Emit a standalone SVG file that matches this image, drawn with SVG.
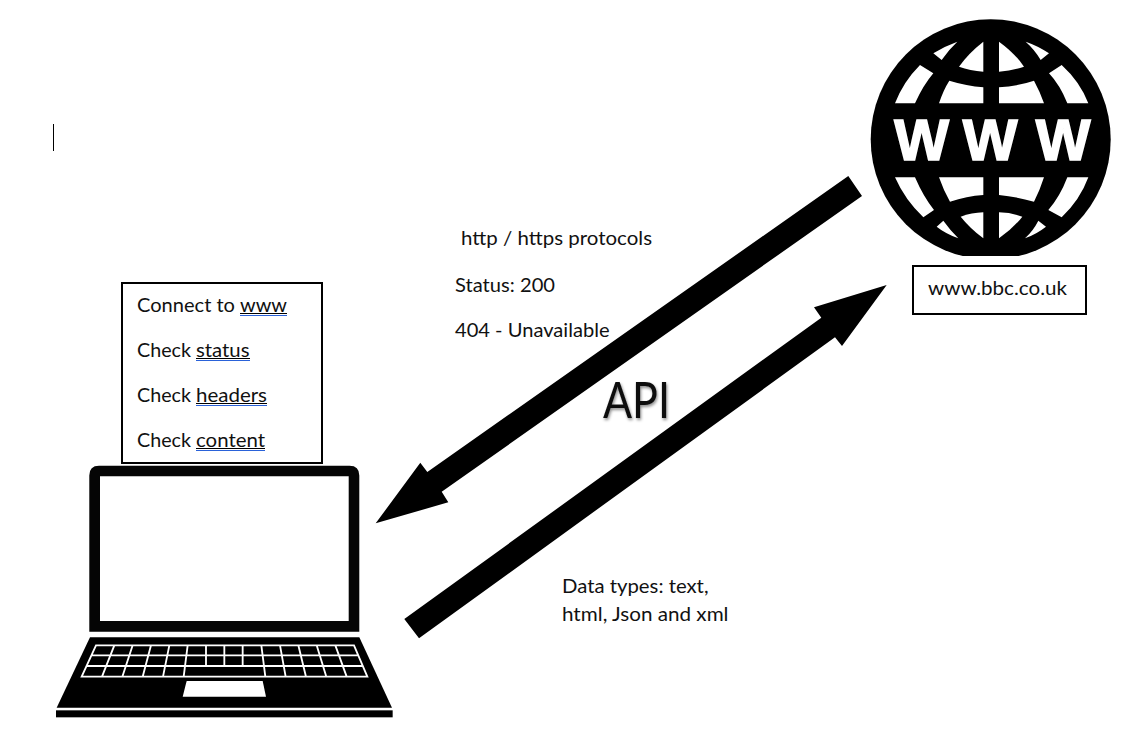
<svg xmlns="http://www.w3.org/2000/svg" width="1137" height="753" viewBox="0 0 1137 753">
<style>
.t{font-family:Lato,"Liberation Sans",sans-serif;font-size:20px;fill:#111}
.box{fill:#fff;stroke:#000;stroke-width:2}
.ub{stroke:#000;stroke-width:1}
.ul{stroke:#2a62d9;stroke-width:1}
.cell{fill:#fff}
.ww{font-family:"Liberation Sans",Arial,sans-serif;font-weight:700;font-size:58px;fill:#fff;stroke:#fff;stroke-width:1.6;text-anchor:middle}
.key{fill:none;stroke:#fff;stroke-width:5.5}
</style>
<defs>
<clipPath id="globeClip"><rect x="860" y="10" width="251" height="246"/></clipPath>
<filter id="soft" x="-20%" y="-20%" width="140%" height="140%"><feDropShadow dx="1" dy="2" stdDeviation="1.5" flood-color="#000" flood-opacity="0.45"/></filter>
</defs>
<rect width="1137" height="753" fill="#fff"/>
<rect id="cursor" x="53" y="124" width="1" height="27" fill="#000"/>

<g id="node-globe">
<circle cx="990.7" cy="139.3" r="120" fill="#000" clip-path="url(#globeClip)"/>
<g transform="translate(860 10) scale(.33333)" class="cell">
<path d="M220,130Q255,108 292,95Q265,120 245,150Z"/>
<path d="M370,95V185Q330,182 297,170Q325,130 370,95Z"/>
<path d="M417,95V185Q458,182 492,170Q465,130 417,95Z"/>
<path d="M497,95Q535,108 567,130L542,150Q525,120 497,95Z"/>
<path d="M180,165L220,190Q190,225 165,280H105Q130,215 180,165Z"/>
<path d="M268,212Q320,228 370,232V280H237Q250,240 268,212Z"/>
<path d="M417,232Q475,228 522,212Q540,245 552,280H417Z"/>
<path d="M605,165Q660,215 685,280H622Q600,225 567,190Z"/>
<path d="M105,502H165Q190,560 222,600L190,622Q135,570 105,502Z"/>
<path d="M237,502H370V555Q320,558 270,575Q250,540 237,502Z"/>
<path d="M417,502H552Q540,540 522,575Q470,560 417,555Z"/>
<path d="M622,502H685Q660,570 605,622L565,600Q600,560 622,502Z"/>
<path d="M230,650L250,632Q270,660 295,685Q255,670 230,650Z"/>
<path d="M302,620Q335,608 370,607V685Q330,655 302,620Z"/>
<path d="M417,607Q455,608 487,620Q460,655 417,685Z"/>
<path d="M535,632L558,650Q530,672 495,685Q520,662 535,632Z"/>
</g>
<text class="ww" x="921.7" y="160">W</text>
<text class="ww" x="990" y="160">W</text>
<text class="ww" x="1063" y="160">W</text>
</g>

<g id="node-url">
<rect class="box" x="913" y="266" width="173" height="48"/>
<text class="t" x="928" y="295" textLength="139" lengthAdjust="spacingAndGlyphs">www.bbc.co.uk</text>
</g>

<g id="node-laptop">
<path fill-rule="evenodd" d="M99,465.7H349.5Q359.3,465.7 359.3,475.5V631.7H89.3V475.5Q89.3,465.7 99,465.7ZM100,476.3V621H348.7V476.3Z" fill="#050505"/>
<g transform="translate(40 620) scale(.33333)">
<polygon points="150,52 958,52 1056,263 50,263" fill="#000"/>
<rect x="48" y="271" width="1010" height="21" fill="#000"/>
<polygon points="440,183 668,183 678,230 428,230" fill="#fff"/>
<path class="key" d="M168,76H942L982,170H125ZM155,106H955M140,138H968
M223,76L186,170M278,76L247,170M333,76L308,170M388,76L369,170M443,76L431,170M498,76V138M553,76V138M608,76V138M664,76L676,170M720,76L737,170M775,76L798,170M830,76L859,170M886,76L920,170"/>
</g>
</g>

<g id="node-steps">
<rect class="box" x="122" y="283" width="200" height="180"/>
<text class="t" y="311.7"><tspan x="137" textLength="98" lengthAdjust="spacingAndGlyphs">Connect to</tspan><tspan x="240" textLength="47" lengthAdjust="spacingAndGlyphs">www</tspan></text>
<text class="t" y="356.7"><tspan x="137" textLength="54" lengthAdjust="spacingAndGlyphs">Check</tspan><tspan x="196" textLength="53.5" lengthAdjust="spacingAndGlyphs">status</tspan></text>
<text class="t" y="401.7"><tspan x="137" textLength="54" lengthAdjust="spacingAndGlyphs">Check</tspan><tspan x="196" textLength="71" lengthAdjust="spacingAndGlyphs">headers</tspan></text>
<text class="t" y="446.7"><tspan x="137" textLength="54" lengthAdjust="spacingAndGlyphs">Check</tspan><tspan x="196" textLength="69" lengthAdjust="spacingAndGlyphs">content</tspan></text>
<path class="ub" d="M240,313.5H287M196,358.5H250M196,403.5H267M196,448.5H265"/>
<path class="ul" d="M240,315.5H287M196,360.5H250M196,405.5H267M196,450.5H265"/>
</g>

<g id="connectors" fill="#000">
<polygon points="848.3,176 862,196 441.7,491.7 448.3,502.3 375.7,523.3 420.3,462.7 427.3,472"/>
<polygon points="404.3,619 821.3,317.7 814,307.3 886.7,285 842,346 835,337.3 419,638.3"/>
</g>

<g id="labels">
<text class="t" x="461" y="245" textLength="191" lengthAdjust="spacingAndGlyphs">http / https protocols</text>
<text class="t" x="455" y="291.7" textLength="100" lengthAdjust="spacingAndGlyphs">Status: 200</text>
<text class="t" x="455" y="336.7" textLength="154.5" lengthAdjust="spacingAndGlyphs">404 - Unavailable</text>
<text class="t" x="562" y="592.7" textLength="146.5" lengthAdjust="spacingAndGlyphs">Data types: text,</text>
<text class="t" x="562" y="620.7" textLength="166.5" lengthAdjust="spacingAndGlyphs">html, Json and xml</text>
<text x="603" y="418" textLength="67" lengthAdjust="spacingAndGlyphs" filter="url(#soft)" style="font-family:Lato,'Liberation Sans',sans-serif;font-size:50px;fill:#111">API</text>
</g>
</svg>
